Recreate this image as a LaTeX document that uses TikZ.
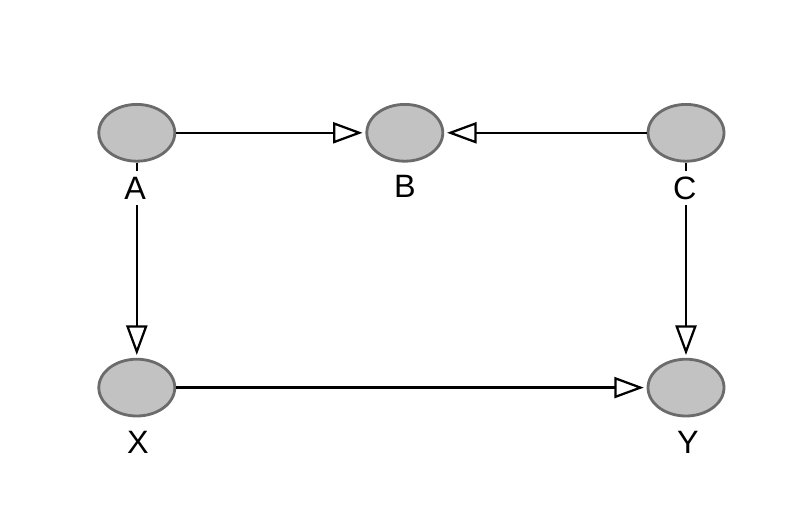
\documentclass[tikz,border=0pt]{standalone}
\usepackage{fontspec}
\setmainfont{Liberation Sans}
\usetikzlibrary{arrows.meta,shapes.geometric}

\begin{document}
\begin{tikzpicture}[line width=1.6pt,
  var/.style={ellipse, draw=black!58, line width=2pt, fill=black!24,
    minimum width=1.9cm, minimum height=1.42cm, inner sep=0pt},
  lbl/.style={fill=white, inner sep=4pt, font=\fontsize{23pt}{27pt}\selectfont},
  link/.style={-{Triangle[open, length=21pt, width=15pt]}, shorten >=2pt}]
  \useasboundingbox (0,0) rectangle (20,13.15);

  \node[var] (A) at ( 3.42, 9.83) {};
  \node[var] (B) at (10.12, 9.83) {};
  \node[var] (C) at (17.15, 9.83) {};
  \node[var] (X) at ( 3.42, 3.46) {};
  \node[var] (Y) at (17.15, 3.46) {};

  \draw[link] (A) -- (B);
  \draw[link] (C) -- (B);
  \draw[link] (A) -- (X);
  \draw[link] (C) -- (Y);
  \draw[link] (X) -- (Y);

  % names under the ellipses
  \node[lbl] (la) at ( 3.38, 8.45) {A};
  \node[lbl] (lb) at (10.12, 8.48) {B};
  \node[lbl] (lc) at (17.12, 8.45) {C};
  \node[lbl] (lx) at ( 3.45, 2.09) {X};
  \node[lbl] (ly) at (17.20, 2.09) {Y};
\end{tikzpicture}
\end{document}
